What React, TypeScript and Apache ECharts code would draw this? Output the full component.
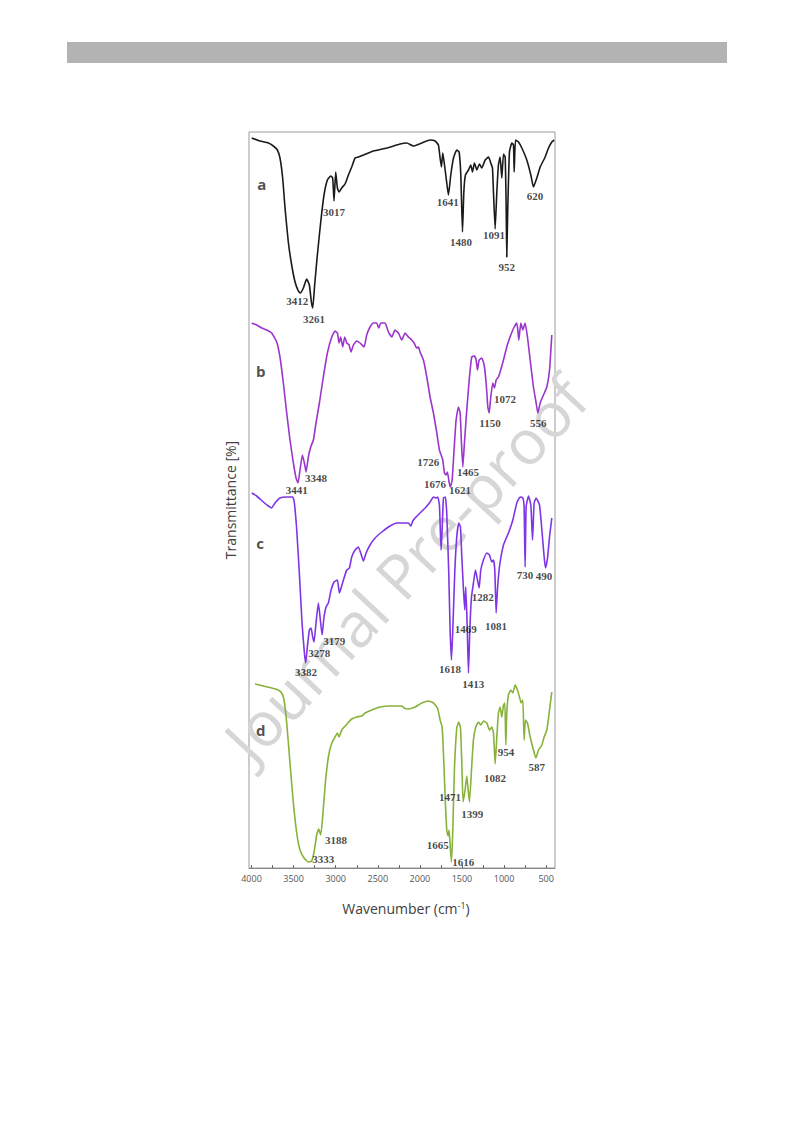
import React, { useEffect, useRef } from "react";
import * as echarts from "echarts";

// Wavenumber (cm-1), stacked transmittance (offset units)
const curveA: [number, number][] = [
  [3998,730],[3899,727],[3800,725],[3741,722],[3693,718],[3662,710],[3630,690],[3602,660],[3563,626],[3523,603],[3483,586],[3444,577],[3420,575],[3384,580],[3345,589],[3313,583],[3289,566],[3273,560],[3250,583],[3218,613],[3178,646],[3139,673],[3099,688],[3059,692],[3036,690],[3020,667],[3000,696],[2980,680],[2960,676],[2929,680],[2889,684],[2849,693],[2810,701],[2770,710],[2730,711],[2671,713],[2552,717],[2394,720],[2235,724],[2156,725],[2077,722],[1978,725],[1879,728],[1819,727],[1780,723],[1760,710],[1744,701],[1728,715],[1712,706],[1688,690],[1661,673],[1633,693],[1601,710],[1562,718],[1534,716],[1514,693],[1494,636],[1478,676],[1459,693],[1423,698],[1395,703],[1376,696],[1352,705],[1324,698],[1292,704],[1265,700],[1225,708],[1185,711],[1158,705],[1138,700],[1126,676],[1106,639],[1086,676],[1067,703],[1047,711],[1027,690],[1007,714],[987,711],[975,660],[968,611],[956,660],[936,716],[908,725],[888,723],[880,696],[864,728],[829,726],[789,720],[730,708],[682,693],[651,681],[611,690],[571,701],[512,711],[472,720],[433,726],[405,728]
];

const curveB: [number, number][] = [
  [3998,545],[3939,543],[3879,540],[3820,538],[3761,535],[3701,526],[3662,511],[3622,485],[3582,455],[3543,428],[3503,405],[3471,390],[3448,385],[3424,398],[3396,413],[3372,405],[3352,396],[3325,411],[3297,421],[3265,428],[3234,445],[3194,465],[3147,491],[3099,515],[3047,531],[3008,537],[2980,535],[2960,525],[2941,531],[2917,521],[2893,531],[2869,525],[2841,523],[2818,516],[2790,523],[2750,527],[2711,525],[2663,521],[2632,533],[2592,541],[2552,545],[2513,545],[2489,540],[2465,545],[2414,545],[2374,536],[2334,531],[2295,538],[2255,535],[2215,528],[2176,535],[2136,531],[2097,528],[2069,525],[2037,520],[2017,521],[1998,516],[1958,508],[1918,491],[1879,471],[1839,455],[1799,435],[1768,418],[1744,412],[1728,408],[1708,395],[1688,393],[1673,396],[1653,386],[1637,381],[1617,388],[1594,418],[1570,448],[1542,461],[1522,455],[1506,425],[1490,401],[1471,425],[1443,458],[1411,491],[1384,511],[1352,512],[1332,508],[1316,498],[1296,508],[1265,510],[1237,503],[1213,485],[1193,461],[1177,455],[1158,471],[1134,485],[1114,480],[1094,488],[1067,491],[1047,496],[1007,508],[968,521],[920,533],[880,541],[848,545],[825,528],[801,545],[777,538],[750,545],[722,531],[690,508],[651,481],[619,465],[599,455],[571,465],[532,473],[492,481],[460,498],[433,533]
];

const curveC: [number, number][] = [
  [3998,375],[3939,372],[3860,366],[3800,362],[3761,360],[3721,365],[3662,370],[3582,371],[3511,371],[3491,365],[3463,338],[3432,295],[3400,245],[3372,215],[3356,205],[3337,221],[3313,238],[3293,240],[3273,231],[3257,226],[3234,245],[3206,265],[3186,251],[3162,233],[3139,251],[3115,261],[3087,265],[3055,278],[3020,286],[2980,288],[2956,275],[2933,281],[2901,290],[2869,298],[2837,300],[2810,311],[2770,318],[2731,321],[2703,315],[2671,307],[2639,315],[2592,323],[2532,330],[2453,336],[2374,341],[2275,345],[2196,345],[2136,345],[2108,342],[2085,347],[2057,350],[1998,355],[1926,361],[1879,366],[1839,371],[1807,370],[1788,371],[1768,363],[1748,318],[1736,338],[1720,370],[1697,371],[1681,355],[1657,295],[1641,238],[1625,208],[1609,238],[1586,295],[1562,331],[1538,345],[1518,341],[1502,311],[1482,278],[1467,258],[1455,281],[1439,245],[1423,195],[1407,238],[1387,271],[1364,285],[1340,298],[1316,288],[1296,280],[1277,298],[1245,308],[1205,315],[1174,313],[1146,306],[1126,308],[1110,298],[1094,255],[1079,278],[1055,301],[1007,323],[948,335],[896,348],[849,365],[809,371],[777,370],[762,361],[750,301],[738,361],[710,372],[682,363],[662,328],[643,365],[619,370],[579,363],[551,338],[524,311],[508,300],[484,310],[460,331],[433,350]
];

const curveD: [number, number][] = [
  [3958,184],[3860,182],[3761,180],[3681,178],[3642,175],[3614,168],[3582,145],[3543,105],[3503,65],[3463,35],[3424,18],[3376,10],[3325,6],[3285,7],[3257,16],[3226,33],[3202,39],[3178,33],[3155,51],[3123,85],[3087,111],[3047,125],[3008,131],[2980,135],[2960,131],[2929,138],[2877,143],[2810,149],[2750,151],[2691,152],[2651,155],[2572,158],[2473,161],[2354,162],[2215,162],[2188,160],[2136,159],[2057,161],[1978,165],[1899,167],[1839,165],[1791,160],[1760,148],[1736,141],[1720,115],[1700,71],[1681,38],[1665,32],[1653,38],[1637,18],[1625,6],[1609,38],[1590,98],[1562,140],[1538,146],[1518,140],[1502,105],[1487,66],[1463,78],[1443,92],[1423,75],[1411,66],[1387,98],[1364,128],[1336,141],[1304,146],[1277,143],[1245,147],[1205,145],[1174,138],[1146,141],[1126,135],[1106,104],[1086,131],[1067,155],[1047,161],[1027,151],[1007,163],[991,165],[979,123],[968,155],[948,173],[920,178],[896,175],[868,183],[841,178],[817,171],[797,165],[777,168],[762,128],[746,148],[722,145],[690,131],[651,118],[623,110],[591,118],[551,123],[524,131],[492,138],[460,158],[433,176]
];

// Peak annotations: [wavenumber, level, text]
const peaksA: [number, number, string][] = [
  [3020,656,"3017"],[3456,567,"3412"],[3257,549,"3261"],[1669,666,"1641"],[1511,626,"1480"],[1119,633,"1091"],[968,601,"952"],[632,672,"620"]
];
const peaksB: [number, number, string][] = [
  [3463,378,"3441"],[3234,390,"3348"],[1900,406,"1726"],[1820,384,"1676"],[1523,378,"1621"],[1428,396,"1465"],[1167,445,"1150"],[989,469,"1072"],[593,445,"556"]
];
const peaksC: [number, number, string][] = [
  [3353,196,"3382"],[3195,215,"3278"],[3016,227,"3179"],[1642,199,"1618"],[1455,239,"1469"],[1253,271,"1282"],[1095,242,"1081"],[751,293,"730"],[525,292,"490"],[1365,184,"1413"]
];
const peaksD: [number, number, string][] = [
  [2996,28,"3188"],[3147,9,"3333"],[1788,23,"1665"],[1484,6,"1616"],[1642,71,"1471"],[1377,54,"1399"],[1107,90,"1082"],[977,116,"954"],[612,101,"587"]
];
const sampleLetters: [number, number, string][] = [
  [3879,684,"a"],[3891,497,"b"],[3899,325,"c"],[3891,138,"d"]
];

const tickValues = [500, 750, 1000, 1250, 1500, 1750, 2000, 2250, 2500, 2750, 3000, 3250, 3500, 3750, 4000];
const labelValues = [500, 1000, 1500, 2000, 2500, 3000, 3500, 4000];

const curveColors = ["#1a1a1a", "#9b35cc", "#7f35e6", "#88b23a"];

export default function App() {
  const ref = useRef<HTMLDivElement>(null);
  useEffect(() => {
    const chart = echarts.init(ref.current!, null, { renderer: "svg" });
    const curves = [curveA, curveB, curveC, curveD];
    const lineSeries = curves.map((c, i) => ({
      type: "line",
      data: c,
      showSymbol: false,
      silent: true,
      smooth: 0.15,
      z: 3,
      lineStyle: { color: curveColors[i], width: 1.6 },
      itemStyle: { color: curveColors[i] },
    }));
    const allPeaks = [...peaksA, ...peaksB, ...peaksC, ...peaksD];
    chart.setOption({
      animation: false,
      backgroundColor: "#ffffff",
      grid: {
        left: 249, top: 132, width: 306, height: 736,
        show: true, borderColor: "#9a9a9a", borderWidth: 1, backgroundColor: "transparent",
      },
      xAxis: {
        type: "value", min: 395, max: 4030, inverse: true,
        splitLine: { show: false },
        axisLine: { show: true, lineStyle: { color: "#8a8a8a", width: 1 } },
        axisTick: { show: true, inside: true, length: 3, customValues: tickValues, lineStyle: { color: "#666" } },
        axisLabel: {
          customValues: labelValues, color: "#555", fontSize: 9, fontFamily: "Open Sans", margin: 6,
          formatter: (v: number) => String(v),
        },
        name: "Wavenumber (cm{sup|-1})",
        nameLocation: "middle",
        nameGap: 33,
        nameTextStyle: {
          color: "#404040", fontSize: 14, fontFamily: "Open Sans", padding: [0, 0, 0, 8],
          rich: { sup: { fontSize: 9, color: "#404040", fontFamily: "Open Sans", verticalAlign: "top", padding: [0, 0, 6, 0] } },
        },
      },
      yAxis: {
        type: "value", min: 0, max: 736,
        axisLine: { show: false }, axisTick: { show: false }, axisLabel: { show: false }, splitLine: { show: false },
        name: "Transmittance [%]",
        nameLocation: "middle",
        nameRotate: 90,
        nameGap: 12,
        nameTextStyle: { color: "#404040", fontSize: 14, fontFamily: "Open Sans" },
      },
      graphic: [
        { type: "rect", shape: { x: 67, y: 42, width: 660, height: 21 }, style: { fill: "#b3b3b3" }, z: 1 },
        {
          type: "text", x: 405, y: 568, rotation: (47 * Math.PI) / 180, z: 0, silent: true,
          style: { text: "Journal Pre-proof", fill: "#d6d6d6", font: "62px 'Open Sans'", textAlign: "center", textVerticalAlign: "middle", align: "center", verticalAlign: "middle" },
        },
      ],
      series: [
        ...lineSeries,
        {
          type: "scatter", data: allPeaks, symbolSize: 1, silent: true, z: 5,
          itemStyle: { color: "transparent" },
          label: {
            show: true, position: "inside", formatter: (p: any) => p.value[2],
            fontFamily: "Liberation Serif", fontWeight: "bold", fontSize: 11, color: "#151515",
          },
        },
        {
          type: "scatter", data: sampleLetters, symbolSize: 1, silent: true, z: 5,
          itemStyle: { color: "transparent" },
          label: {
            show: true, position: "inside", formatter: (p: any) => p.value[2],
            fontFamily: "Open Sans", fontWeight: "bold", fontSize: 15, color: "#222",
          },
        },
      ],
    });
    return () => chart.dispose();
  }, []);
  return <div ref={ref} style={{ position: "absolute", left: 0, top: 0, width: 793, height: 1123, background: "#fff" }} />;
}
